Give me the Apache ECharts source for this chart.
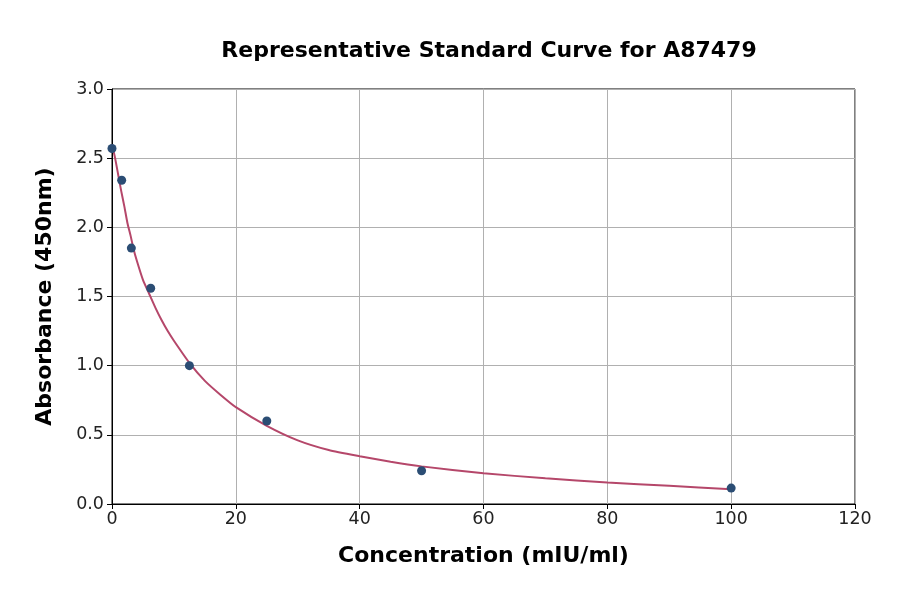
<!DOCTYPE html>
<html>
<head>
<meta charset="utf-8">
<script src="https://cdn.jsdelivr.net/npm/echarts@6/dist/echarts.min.js"></script>
<style>html,body{margin:0;padding:0;background:#fff}#c{width:900px;height:594px}</style>
</head>
<body>
<div id="c"></div>
<script>
const pointX = [0, 1.5625, 3.125, 6.25, 12.5, 25, 50, 100];
const pointY = [2.57, 2.34, 1.85, 1.56, 1.00, 0.60, 0.24, 0.115];
const curveX = [0, 0.5, 1, 1.5, 2, 2.5, 3, 3.5, 4, 5, 6, 7, 8, 9, 10, 12.5, 15, 17.5, 20, 25, 30, 35, 40, 45, 50, 60, 70, 80, 90, 100];
const curveY = [2.60, 2.50, 2.38, 2.26, 2.15, 2.03, 1.94, 1.84, 1.76, 1.62, 1.52, 1.42, 1.33, 1.25, 1.18, 1.02, 0.89, 0.79, 0.70, 0.565, 0.46, 0.39, 0.345, 0.305, 0.272, 0.222, 0.186, 0.155, 0.132, 0.106];
const xTicks = [0, 20, 40, 60, 80, 100, 120];
const yTicks = [0, 0.5, 1.0, 1.5, 2.0, 2.5, 3.0];

const font = 'DejaVu Sans';
const chart = echarts.init(document.getElementById('c'));
chart.setOption({
  animation: false,
  backgroundColor: '#fff',
  title: {
    text: 'Representative Standard Curve for A87479',
    left: 484, top: 35, textAlign: 'center',
    textStyle: {fontFamily: font, fontSize: 22, fontWeight: 'bold', color: '#000'}
  },
  grid: {left: 112, right: 45, top: 89, bottom: 90, show: true, borderColor: '#000', borderWidth: 1},
  xAxis: {
    type: 'value', min: xTicks[0], max: xTicks[xTicks.length-1], interval: 20,
    name: 'Concentration (mIU/ml)', nameLocation: 'middle', nameGap: 41,
    nameTextStyle: {fontFamily: font, fontSize: 22, fontWeight: 'bold', color: '#000'},
    axisLine: {show: true, onZero: false, lineStyle: {color: '#000'}},
    axisTick: {show: true, length: 5, lineStyle: {color: '#000'}},
    axisLabel: {fontFamily: font, fontSize: 17.5, color: '#222', margin: 6},
    splitLine: {show: true, lineStyle: {color: '#b0b0b0', width: 1}}
  },
  yAxis: {
    type: 'value', min: yTicks[0], max: yTicks[yTicks.length-1], interval: 0.5,
    name: 'Absorbance (450nm)', nameLocation: 'middle', nameGap: 56,
    nameTextStyle: {fontFamily: font, fontSize: 22, fontWeight: 'bold', color: '#000'},
    axisLine: {show: true, onZero: false, lineStyle: {color: '#000'}},
    axisTick: {show: true, length: 5, lineStyle: {color: '#000'}},
    axisLabel: {fontFamily: font, fontSize: 17.5, color: '#222', margin: 8, formatter: v => v.toFixed(1)},
    splitLine: {show: true, lineStyle: {color: '#b0b0b0', width: 1}}
  },
  series: [
    {
      type: 'line', data: curveX.map((x, i) => [x, curveY[i]]),
      smooth: 0.2, showSymbol: false, symbol: 'none',
      lineStyle: {color: '#b5476a', width: 2}, z: 2
    },
    {
      type: 'scatter', data: pointX.map((x, i) => [x, pointY[i]]),
      symbolSize: 9, itemStyle: {color: '#2b4d74', opacity: 1}, z: 3
    }
  ]
});
</script>
</body>
</html>
